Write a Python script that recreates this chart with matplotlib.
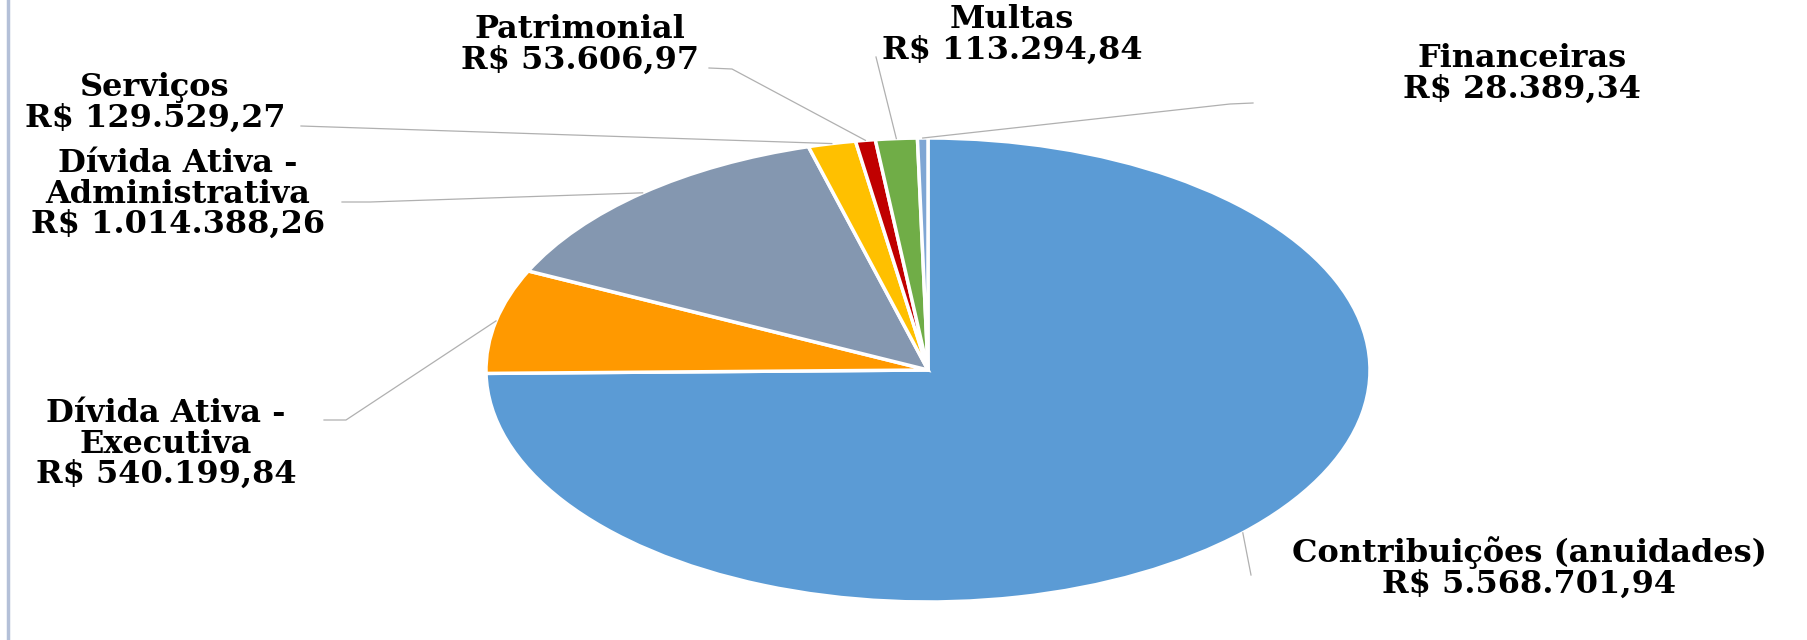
import numpy as np
import matplotlib.pyplot as plt

# dados do gráfico (receitas)
categorias = ['Contribuições (anuidades)', 'Dívida Ativa -\nExecutiva',
              'Dívida Ativa -\nAdministrativa', 'Serviços', 'Patrimonial',
              'Multas', 'Financeiras']
valores = [5568701.94, 540199.84, 1014388.26, 129529.27, 53606.97,
           113294.84, 28389.34]
cores = ['#5B9BD5', '#FF9900', '#8497B0', '#FFC000', '#C00000',
         '#70AD47', '#7FA6D4']

# layout em pixels da imagem (centro da pizza e raios da elipse)
W, H = 1807, 640
cx, cy, rx, ry = 928, 370, 442, 232

# posição dos rótulos (centro do bloco de texto, px) e pontos de quebra das linhas guia
pos_rotulo = [(1529, 568), (166, 444), (178, 194), (155, 103), (580, 45),
              (1012, 35), (1522, 74)]
quebras = [[(1251, 575)], [(346, 420), (324, 420)], [(370, 202), (342, 202)],
           [(301, 126)], [(732, 69), (709, 68)], [(876, 57)],
           [(1230, 104), (1253, 103)]]


def px(x, y):
    # converte pixel da imagem -> coordenadas do eixo
    return (x - cx) / rx, (cy - y) / ry


def moeda(v):
    s = f'{v:,.2f}'
    return 'R$ ' + s.replace(',', '#').replace('.', ',').replace('#', '.')


fig = plt.figure(figsize=(W / 100, H / 100), dpi=100)
ax = fig.add_axes([0, 0, 1, 1])
wedges, _ = ax.pie(valores, colors=cores, startangle=90, counterclock=False,
                   wedgeprops=dict(edgecolor='white', linewidth=2.5))
ax.set_aspect('auto')
ax.set_xlim(px(0, 0)[0], px(W, 0)[0])
ax.set_ylim(px(0, H)[1], px(0, 0)[1])
ax.axis('off')

# borda esquerda
fig.add_artist(plt.Line2D([8 / W, 8 / W], [0, 1], color='#B4C0D8', lw=2.5))

for w, nome, v, (tx, ty), qb in zip(wedges, categorias, valores, pos_rotulo, quebras):
    ang = np.deg2rad((w.theta1 + w.theta2) / 2)
    pts = [(np.cos(ang), np.sin(ang))] + [px(*p) for p in qb]
    xs, ys = zip(*pts)
    ax.plot(xs, ys, color='#B0B0B0', lw=0.9)
    ax.text(*px(tx, ty), nome + '\n' + moeda(v), ha='center', va='center',
            multialignment='center', fontsize=23, fontweight='bold',
            family='DejaVu Serif', linespacing=0.96, color='black')

fig.savefig('out.png', dpi=100, facecolor='white')
